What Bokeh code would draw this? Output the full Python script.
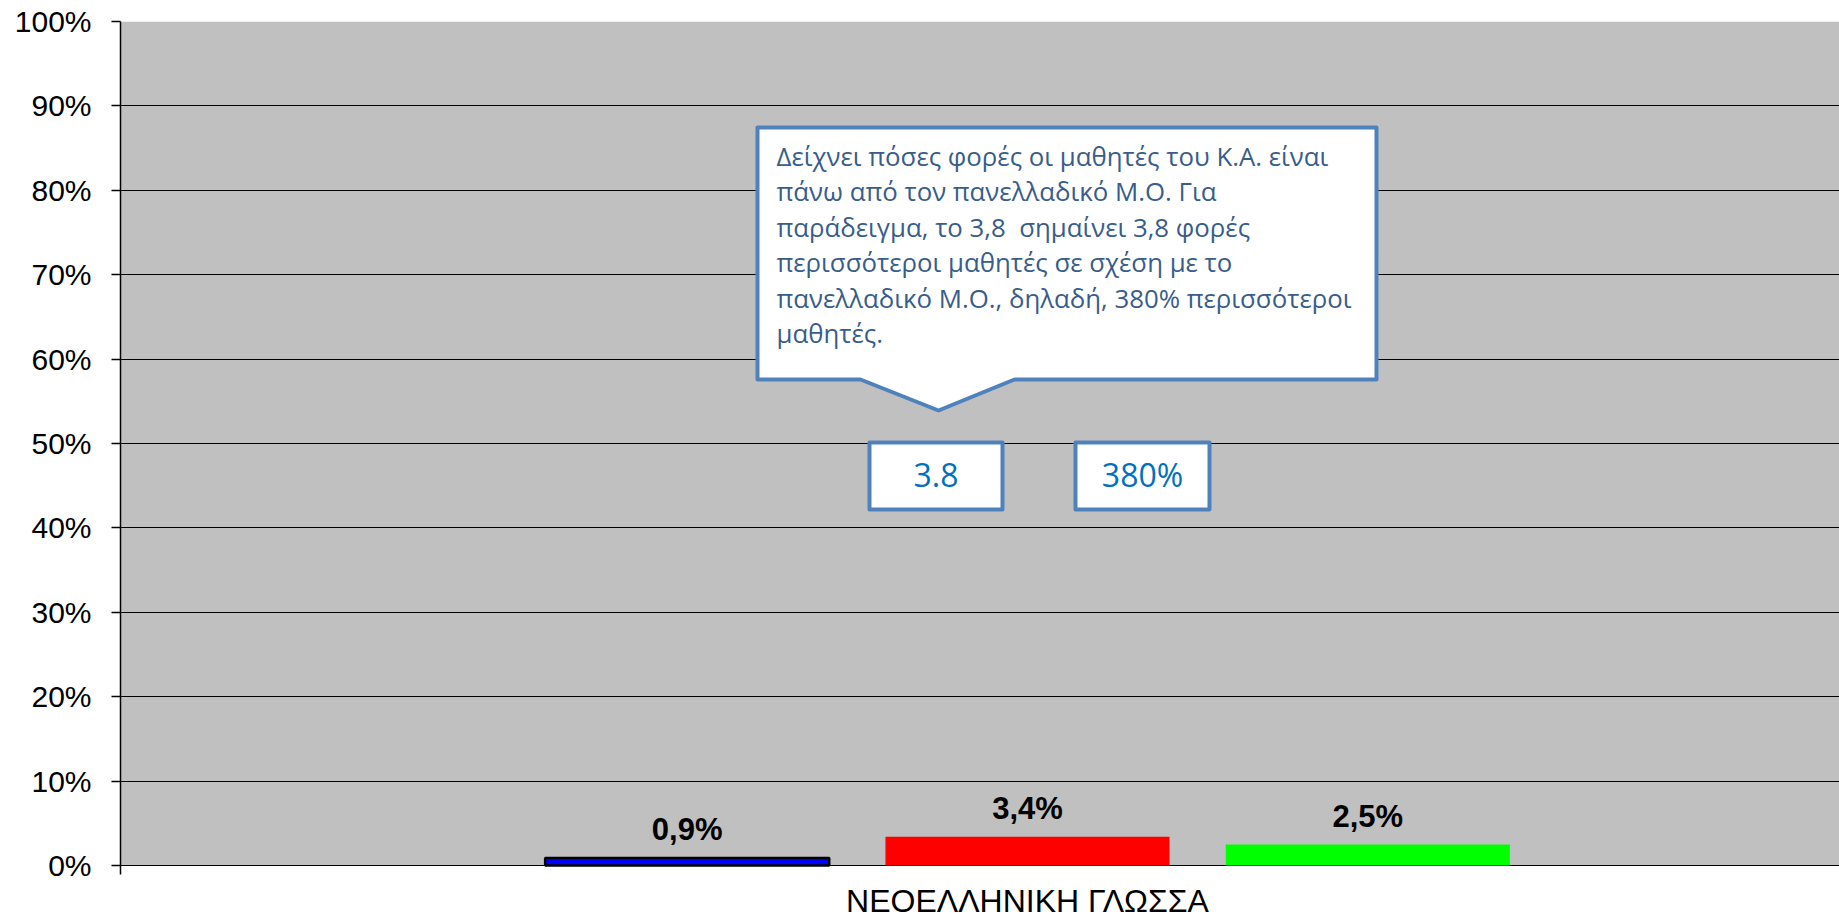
from bokeh.plotting import figure
from bokeh.models import Range1d, FixedTicker, Label, ColumnDataSource
from bokeh.core.properties import value
from bokeh.embed import file_html
from bokeh.resources import INLINE

# ---------------- data ----------------
categories = ["ΝΕΟΕΛΛΗΝΙΚΗ ΓΛΩΣΣΑ"]
series_values = [0.9, 3.4, 2.5]
series_colors = ["#0000FF", "#FF0000", "#00FF00"]
series_outline = ["#000000", None, None]
y_ticks = [0, 10, 20, 30, 40, 50, 60, 70, 80, 90, 100]
y_tick_labels = [f"{t}%" for t in y_ticks]
callout_lines = [
    "Δείχνει πόσες φορές οι μαθητές του Κ.Α. είναι",
    "πάνω από τον πανελλαδικό Μ.Ο. Για",
    "παράδειγμα, το 3,8  σημαίνει 3,8 φορές",
    "περισσότεροι μαθητές σε σχέση με το",
    "πανελλαδικό Μ.Ο., δηλαδή, 380% περισσότεροι",
    "μαθητές.",
]
ratio_text = "3.8"
ratio_pct_text = "380%"

# ---------------- layout helpers (canvas px -> data) ----------------
W, H = 1839, 919
FRAME_LEFT_PX, FRAME_TOP_PX, ZERO_PX, CAT_W_PX, UNIT_PX = 120.0, 21.0, 865.0, 1814.0, 8.44
def X(px):
    return (px - FRAME_LEFT_PX) / CAT_W_PX
def Y(py):
    return (ZERO_PX - py) / UNIT_PX

x_end = X(W)
y_start = Y(H)

p = figure(width=W, height=H, x_range=Range1d(0, x_end), y_range=Range1d(y_start, 100),
           output_backend="svg", toolbar_location=None,
           min_border_left=int(FRAME_LEFT_PX), min_border_right=0,
           min_border_top=int(FRAME_TOP_PX), min_border_bottom=0,
           background_fill_color="white", border_fill_color="white")
p.outline_line_color = None
p.xaxis.visible = False

# plot area (grey) from 0% to 100%
p.quad(left=[0], right=[x_end], bottom=[0], top=[100], fill_color="#C0C0C0",
       line_color=None, level="image")

# grid
p.xgrid.visible = False
p.ygrid.ticker = FixedTicker(ticks=y_ticks)
p.ygrid.grid_line_color = "#000000"
p.ygrid.grid_line_width = 1

# y axis
p.yaxis.ticker = FixedTicker(ticks=y_ticks)
p.yaxis.bounds = (Y(ZERO_PX + 9), 100)
p.yaxis.major_label_overrides = {t: l for t, l in zip(y_ticks, y_tick_labels)}
p.yaxis.major_tick_out = 9
p.yaxis.major_tick_in = 0
p.yaxis.minor_tick_out = 0
p.yaxis.minor_tick_in = 0
p.yaxis.axis_line_color = "#000000"
p.yaxis.axis_line_width = 1.5
p.yaxis.major_tick_line_color = "#000000"
p.yaxis.major_tick_line_width = 1.5
p.yaxis.major_label_text_font = "Liberation Sans"
p.yaxis.major_label_text_font_size = "30px"
p.yaxis.major_label_text_color = "#000000"
p.yaxis.major_label_standoff = 20

# bars
n = len(series_values)
spacing = 0.1876
bar_w = 0.1566
xs = [0.5 + (i - (n - 1) / 2) * spacing for i in range(n)]
for i in range(n):
    p.vbar(x=[xs[i]], top=[series_values[i]], bottom=0, width=bar_w,
           fill_color=series_colors[i], line_color=series_outline[i], line_width=2.5)

# value labels, baseline ~16px above each bar top
lift = 28 / UNIT_PX
labels = [f"{v:.1f}".replace(".", ",") + "%" for v in series_values]
src = ColumnDataSource(dict(x=xs, y=[v + lift for v in series_values], t=labels))
p.text(x="x", y="y", text="t", source=src, text_align="center", text_baseline="alphabetic",
       text_font=value("Liberation Sans"), text_font_style="bold",
       text_font_size="31px", text_color="#000000")

# category label
p.text(x=[0.5], y=[Y(900)], text=[categories[0]], text_align="center",
       text_baseline="alphabetic", text_font=value("Liberation Sans"),
       text_font_size="32px", text_color="#000000")

# callout shape
BORDER = "#4F81BD"
cx = [757, 1376, 1376, 1014, 938, 860, 757]
cy = [127, 127, 379, 379, 410, 379, 379]
p.patch([X(v) for v in cx], [Y(v) for v in cy], fill_color="white",
        line_color=BORDER, line_width=4, line_join="round")

baselines = [165, 200.5, 236, 271.5, 307, 342.5]
for line, by in zip(callout_lines, baselines):
    p.add_layout(Label(x=X(776), y=Y(by - 10), text=line.replace("  ", "\u00a0 "), text_align="left",
                       text_baseline="alphabetic", text_font="Open Sans",
                       text_font_size="25.8px", text_color="#385D8A"))

# small boxes
for (l, r), txt in zip([(869, 1002), (1075, 1209)], [ratio_text, ratio_pct_text]):
    p.quad(left=[X(l)], right=[X(r)], top=[Y(442)], bottom=[Y(509)], fill_color="white",
           line_color=BORDER, line_width=4, line_join="round")
    p.add_layout(Label(x=X((l + r) / 2), y=Y(486 - 12), text=txt, text_align="center",
                       text_baseline="alphabetic", text_font="Open Sans",
                       text_font_size="32px", text_color="#0070C0"))

open("out.html", "w").write(file_html(p, INLINE))
